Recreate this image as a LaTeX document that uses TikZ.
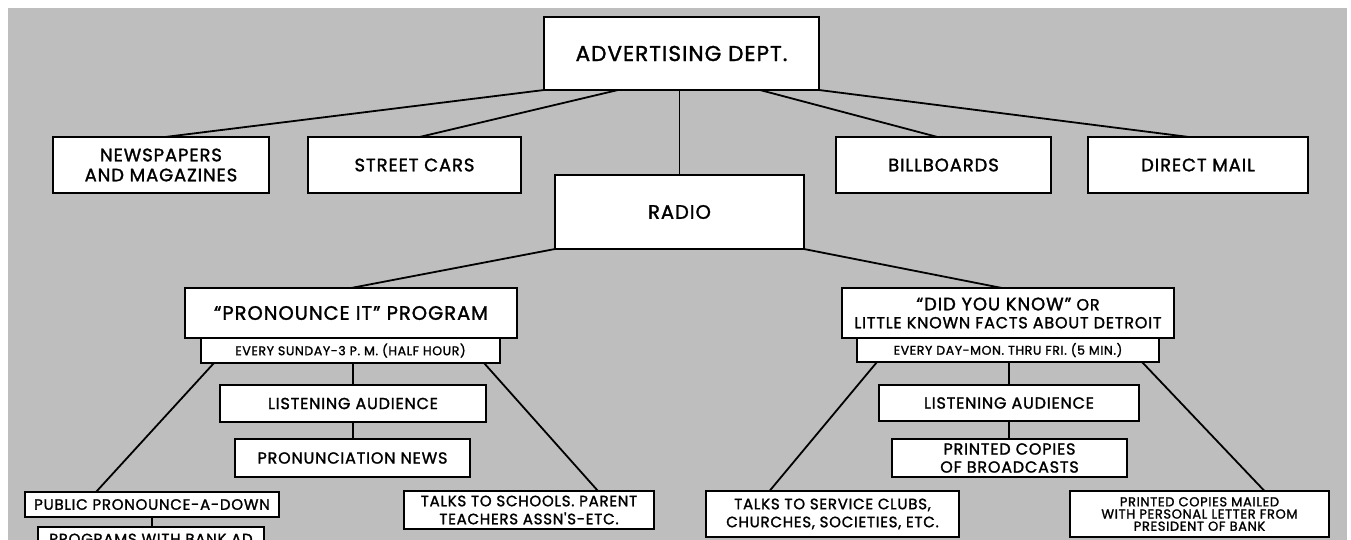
\documentclass[tikz,border=0pt]{standalone}
\usepackage{fontspec}
\newfontfamily\geo{Poppins}[LetterSpace=5,RawFeature={embolden=1.5}]
\definecolor{bggray}{RGB}{190,190,190}
\newcommand\bx[7]{\node[box,#6,minimum width={(#4-#2)*1pt},minimum height={(#5-#3)*1pt}] (#1) at ({(#2+#4)/2},{(#3+#5)/2}) {#7};}
\begin{document}
\begin{tikzpicture}[x=1pt,y=-1pt,
  box/.style={draw=black,line width=1.8pt,fill=white,inner sep=0pt,outer sep=0pt,align=center},
  conn/.style={draw=black,line width=1.8pt},
  fA/.style={font=\geo\fontsize{21.5}{24}\selectfont},
  fB/.style={font=\geo\fontsize{18}{20}\selectfont},
  fC/.style={font=\geo\fontsize{19.5}{22}\selectfont},
  fD/.style={font=\geo\fontsize{12.5}{14}\selectfont},
  fE/.style={font=\geo\fontsize{16}{18}\selectfont},
  fF/.style={font=\geo\fontsize{15}{18}\selectfont},
  fG/.style={font=\geo\fontsize{13}{12.2}\selectfont}]
\useasboundingbox (0,0) rectangle (1351,539);
\clip (0,0) rectangle (1351,539);
\fill[bggray] (8,8) rectangle (1347,545);
% top level
\bx{adv}{544}{17}{819}{90}{fA}{ADVERTISING DEPT.}
\bx{news}{53}{137}{269}{193}{fB}{NEWSPAPERS\\AND MAGAZINES}
\bx{street}{308}{137}{521}{193}{fB}{STREET CARS}
\bx{radio}{555}{175}{804}{249}{fC}{RADIO}
\bx{bill}{836}{137}{1051}{193}{fB}{BILLBOARDS}
\bx{mail}{1088}{137}{1308}{193}{fB}{DIRECT MAIL}
% programs
\bx{pron}{185}{288}{517}{338}{fC}{“PRONOUNCE IT” PROGRAM}
\bx{pronsub}{201}{338}{500}{363}{fD}{EVERY SUNDAY-3 P. M. (HALF HOUR)}
\bx{did}{842}{288}{1174}{338}{fE}{{\fontsize{18}{20}\selectfont “DID YOU KNOW”} OR\\LITTLE KNOWN FACTS ABOUT DETROIT}
\bx{didsub}{857}{338}{1159}{362}{fD}{EVERY DAY-MON. THRU FRI. (5 MIN.)}
% left branch
\bx{listenA}{220}{385}{486}{422}{fE}{LISTENING AUDIENCE}
\bx{pnews}{235}{439}{470}{477}{fE}{PRONUNCIATION NEWS}
\bx{public}{25}{492}{279}{517}{fF}{PUBLIC PRONOUNCE-A-DOWN}
\bx{progbank}{38}{527}{264}{551}{fF}{PROGRAMS WITH BANK AD}
\bx{schools}{404}{491}{654}{529}{fF}{TALKS TO SCHOOLS. PARENT\\TEACHERS ASSN'S-ETC.}
% right branch
\bx{listenB}{879}{385}{1139}{421}{fE}{LISTENING AUDIENCE}
\bx{printed}{892}{439}{1127}{477}{fE}{PRINTED COPIES\\OF BROADCASTS}
\bx{service}{706}{491}{959}{537}{fF}{TALKS TO SERVICE CLUBS,\\CHURCHES, SOCIETIES, ETC.}
\bx{mailed}{1070}{491}{1329}{537}{fG}{PRINTED COPIES MAILED\\WITH PERSONAL LETTER FROM\\PRESIDENT OF BANK}
% connectors
\draw[conn] (adv.south west) -- ([xshift=4pt]news.north);
\draw[conn] ([xshift=74pt]adv.south west) -- ([xshift=5pt]street.north);
\draw[conn,line width=1.2pt] (radio.north |- adv.south) -- (radio.north);
\draw[conn] ([xshift=-59pt]adv.south east) -- ([xshift=-6pt]bill.north);
\draw[conn] (adv.south east) -- ([xshift=-9pt]mail.north);
\draw[conn] (radio.south west) -- (pron.north);
\draw[conn] (radio.south east) -- ([xshift=-6pt]did.north);
\draw[conn] ([xshift=13pt]pronsub.south west) -- ([xshift=-56pt]public.north);
\draw[conn] ([xshift=-16pt]pronsub.south east) -- ([xshift=69pt]schools.north);
\draw[conn,line width=1.2pt] (listenA.north |- pronsub.south) -- (listenA.north);
\draw[conn,line width=1.2pt] (listenA.south) -- (pnews.north -| listenA.south);
\draw[conn,line width=1.2pt] (public.south) -- (progbank.north -| public.south);
\draw[conn] ([xshift=20pt]didsub.south west) -- ([xshift=-63pt]service.north);
\draw[conn] ([xshift=-17pt]didsub.south east) -- ([xshift=65pt]mailed.north);
\draw[conn,line width=1.2pt] (listenB.north |- didsub.south) -- (listenB.north);
\draw[conn,line width=1.2pt] (listenB.south) -- (printed.north -| listenB.south);
\end{tikzpicture}
\end{document}
